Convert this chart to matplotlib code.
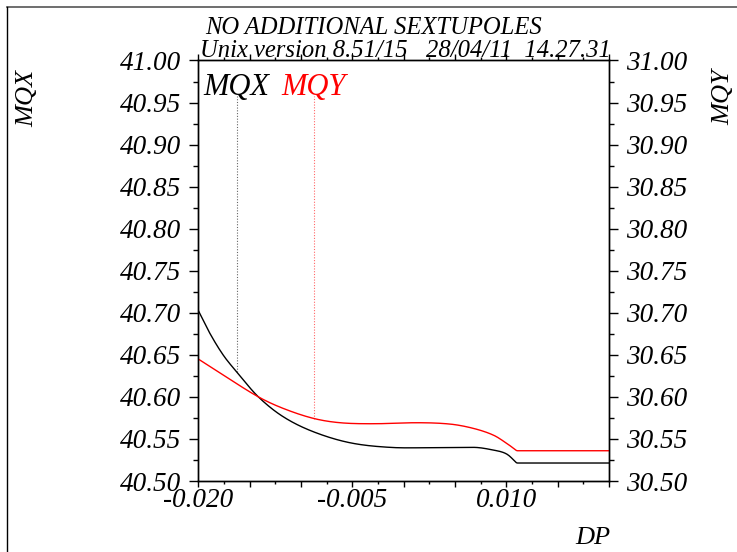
import numpy as np
import matplotlib
matplotlib.use("Agg")
import matplotlib.pyplot as plt
from matplotlib.ticker import MultipleLocator, FuncFormatter
from matplotlib.lines import Line2D

plt.rcParams['font.family'] = ['Liberation Serif', 'DejaVu Serif']
plt.rcParams['font.style'] = 'italic'
plt.rcParams['axes.unicode_minus'] = False

# momentum deviation and tunes
dp = [-0.0200, -0.01888, -0.01758, -0.01628, -0.01417, -0.01174, -0.00881,
      -0.00524, -0.00134, 0.00256, 0.00678, 0.00873, 0.01003, 0.01101, 0.0200]
mqx = [40.7023, 40.6754, 40.6496, 40.6298, 40.6001, 40.5764, 40.5586,
       40.5455, 40.5400, 40.5396, 40.5400, 40.5368, 40.5321, 40.5214, 40.5214]

dp_y = [-0.0200, -0.01758, -0.01417, -0.01174, -0.00881, -0.00621, -0.00297,
        0.00126, 0.00451, 0.00678, 0.00873, 0.01003, 0.01101, 0.0200]
mqy = [30.6449, 30.6259, 30.6001, 30.5863, 30.5745, 30.5693, 30.5681,
       30.5693, 30.5677, 30.5626, 30.5546, 30.5448, 30.5360, 30.5360]

# where the label markers drop down to the curves
mark_x = -0.01623
mark_y = -0.00871

title1 = "NO ADDITIONAL SEXTUPOLES"
title2 = "Unix version 8.51/15   28/04/11  14.27.31"


def smooth(x, y, n=400):
    # cubic Hermite through the read points, centred slopes
    x = np.asarray(x)
    y = np.asarray(y)
    xs = np.linspace(x[0], x[-1], n)
    d = np.diff(y) / np.diff(x)
    m = np.zeros_like(y)
    m[0] = d[0]
    m[-1] = d[-1]
    for i in range(1, len(y) - 1):
        m[i] = (y[i + 1] - y[i - 1]) / (x[i + 1] - x[i - 1])
        if d[i - 1] * d[i] <= 0:
            m[i] = 0.0
    # keep the kink at the start of the flat part sharp
    m[-2] = d[-2]
    idx = np.clip(np.searchsorted(x, xs) - 1, 0, len(x) - 2)
    h = x[idx + 1] - x[idx]
    t = (xs - x[idx]) / h
    h00 = 2 * t**3 - 3 * t**2 + 1
    h10 = t**3 - 2 * t**2 + t
    h01 = -2 * t**3 + 3 * t**2
    h11 = t**3 - t**2
    ys = h00 * y[idx] + h10 * h * m[idx] + h01 * y[idx + 1] + h11 * h * m[idx + 1]
    flat = xs >= x[-2]
    ys[flat] = y[-1]
    return xs, ys


fig = plt.figure(figsize=(7.37, 5.52), dpi=100)
ax = fig.add_axes([0.2693, 0.1286, 0.557, 0.7618])
ax2 = ax.twinx()

xs, ys = smooth(dp, mqx)
ax.plot(xs, ys, color='black', lw=1.0)
xs2, ys2 = smooth(dp_y, mqy)
ax2.plot(xs2, ys2, color='red', lw=1.0)

ax.set_xlim(-0.02, 0.02)
ax.set_ylim(40.5, 41.0)
ax2.set_ylim(30.5, 31.0)

# dotted markers from the labels to the curves
ax.plot([mark_x, mark_x], [np.interp(mark_x, xs, ys), 40.958],
        color='black', lw=0.8, ls=(0, (1, 1.5)), alpha=0.6)
ax2.plot([mark_y, mark_y], [np.interp(mark_y, xs2, ys2), 30.958],
         color='red', lw=0.8, ls=(0, (1, 1.5)), alpha=0.6)

labelled = [-0.020, -0.005, 0.010]


def xfmt(v, pos):
    for l in labelled:
        if abs(v - l) < 1e-6:
            return "%.3f" % v
    return ""


ax.xaxis.set_major_locator(MultipleLocator(0.005))
ax.xaxis.set_minor_locator(MultipleLocator(0.0025))
ax.xaxis.set_major_formatter(FuncFormatter(xfmt))
for a in (ax, ax2):
    a.yaxis.set_major_locator(MultipleLocator(0.05))
    a.yaxis.set_minor_locator(MultipleLocator(0.025))
    a.yaxis.set_major_formatter(FuncFormatter(lambda v, p: "%.2f" % v))
    for s in a.spines.values():
        s.set_linewidth(1.0)

ax.tick_params(axis='x', which='major', direction='out', length=4.5, width=1.0,
               labelsize=19.5, pad=0.5, top=True)
ax.tick_params(axis='x', which='minor', direction='out', length=2.2, width=1.0, top=True)
ax.tick_params(axis='y', which='major', direction='out', length=6.5, width=1.0,
               labelsize=19.5, pad=6)
ax.tick_params(axis='y', which='minor', direction='out', length=3.3, width=1.0)
ax2.tick_params(axis='y', which='major', direction='out', length=6.5, width=1.0,
                labelsize=19.5, pad=6)
ax2.tick_params(axis='y', which='minor', direction='out', length=3.3, width=1.0)

# texts
it = dict(family='Liberation Serif', style='italic')
fig.text(0.278, 0.9384, title1, fontsize=17.7, ha='left', va='baseline', **it)
fig.text(0.2714, 0.8967, title2, fontsize=17.7, ha='left', va='baseline', **it)
fig.text(0.2754, 0.8279, "MQX", fontsize=22, color='black', ha='left', va='baseline', **it)
fig.text(0.3813, 0.8279, "MQY", fontsize=22, color='red', ha='left', va='baseline', **it)
fig.text(0.0366, 0.8225, "MQX", fontsize=19, rotation=90, ha='center', va='center', **it)
fig.text(0.981, 0.8243, "MQY", fontsize=19, rotation=90, ha='center', va='center', **it)
fig.text(0.8046, 0.0145, "DP", fontsize=19, ha='center', va='baseline', **it)

# page frame (top and left edges)
fig.add_artist(Line2D([7 / 737, 1.0], [1 - 7 / 552, 1 - 7 / 552],
                      transform=fig.transFigure, color='#555555', lw=1.2))
fig.add_artist(Line2D([7 / 737, 7 / 737], [0.0, 1 - 7 / 552],
                      transform=fig.transFigure, color='black', lw=1.0))

# force italic Times-like tick labels after they exist
fig.canvas.draw()
for a in (ax, ax2):
    for t in a.xaxis.get_major_ticks() + a.yaxis.get_major_ticks():
        for lab in (t.label1, t.label2):
            lab.set_family('Liberation Serif')
            lab.set_style('italic')

fig.savefig("out.png", dpi=100)
